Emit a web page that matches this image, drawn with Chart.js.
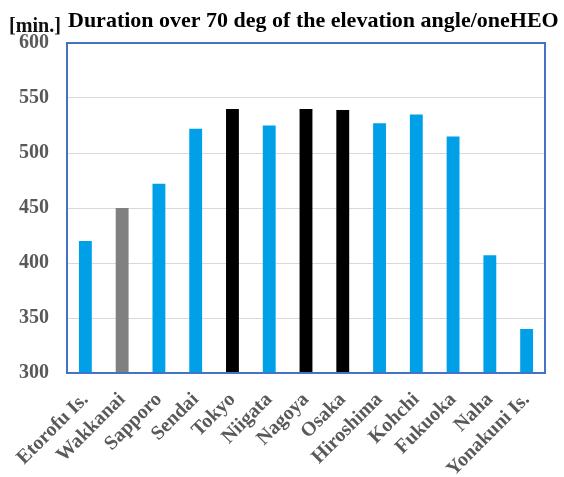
<!DOCTYPE html>
<html>
<head>
<meta charset="utf-8">
<script src="https://cdn.jsdelivr.net/npm/chart.js@4.4.1/dist/chart.umd.min.js"></script>
<style>
    html, body { margin: 0; padding: 0; background: #fff; }
    #wrap { position: relative; width: 564px; height: 477px; }
</style>
</head>
<body>
<div id="wrap"><canvas id="chart" width="564" height="477"></canvas></div>
<script>
// Data
const cities = ['Etorofu Is.', 'Wakkanai', 'Sapporo', 'Sendai', 'Tokyo', 'Niigata', 'Nagoya',
    'Osaka', 'Hiroshima', 'Kohchi', 'Fukuoka', 'Naha', 'Yonakuni Is.'];
const minutes = [420, 450, 472, 522, 540, 525, 540, 539, 527, 535, 515, 407, 340];
// group of each city: 'metro' = big cities, 'ref' = Wakkanai, 'other'
const groups = ['other', 'ref', 'other', 'other', 'metro', 'other', 'metro',
    'metro', 'other', 'other', 'other', 'other', 'other'];
const yTicks = [300, 350, 400, 450, 500, 550, 600];

const titleText = 'Duration over 70 deg of the elevation angle/oneHEO';
const unitText = '[min.]';

const groupColor = { metro: '#000000', ref: '#808080', other: '#00a0e9' };
const serif = '"Liberation Serif", "Times New Roman", serif';

// Plot frame + title texts
const framePlugin = {
    id: 'frame',
    afterDatasetsDraw(chart) {
        const { ctx, chartArea: a } = chart;
        ctx.save();
        ctx.strokeStyle = '#4472c4';
        ctx.lineWidth = 2;
        ctx.strokeRect(a.left, a.top, a.right - a.left, a.bottom - a.top);
        ctx.restore();
    },
    afterDraw(chart) {
        const { ctx, chartArea: a } = chart;
        ctx.save();
        ctx.fillStyle = '#000';
        ctx.textBaseline = 'alphabetic';
        ctx.textAlign = 'left';
        ctx.font = 'bold 22px ' + serif;
        ctx.fillText(titleText, a.left + 1, 27, 495);
        ctx.font = 'bold 21px ' + serif;
        ctx.fillStyle = '#111';
        ctx.fillText(unitText, 9, 32, 52);
        ctx.restore();
    }
};

new Chart(document.getElementById('chart'), {
    type: 'bar',
    data: {
        labels: cities,
        datasets: [{
            data: minutes,
            backgroundColor: groups.map(g => groupColor[g]),
            borderWidth: 0,
            barPercentage: 0.35,
            categoryPercentage: 1
        }]
    },
    options: {
        responsive: false,
        animation: false,
        layout: { padding: { top: 43, right: 19, bottom: 0, left: 0 } },
        plugins: {
            legend: { display: false },
            tooltip: { enabled: false }
        },
        scales: {
            x: {
                grid: { display: false, drawTicks: false },
                border: { display: false },
                ticks: {
                    autoSkip: false,
                    minRotation: 45,
                    maxRotation: 45,
                    padding: 15,
                    color: '#595959',
                    font: { family: serif, size: 20, weight: 'bold' }
                },
                afterFit(scale) { scale.height = 104; }
            },
            y: {
                min: 300,
                max: 600,
                afterBuildTicks(scale) { scale.ticks = yTicks.map(v => ({ value: v })); },
                grid: { color: '#d9d9d9', lineWidth: 1, drawTicks: false },
                border: { display: false },
                ticks: {
                    padding: 18,
                    color: '#595959',
                    font: { family: serif, size: 20, weight: 'bold' }
                },
                afterFit(scale) { scale.width = 67; }
            }
        }
    },
    plugins: [framePlugin]
});
</script>
</body>
</html>
